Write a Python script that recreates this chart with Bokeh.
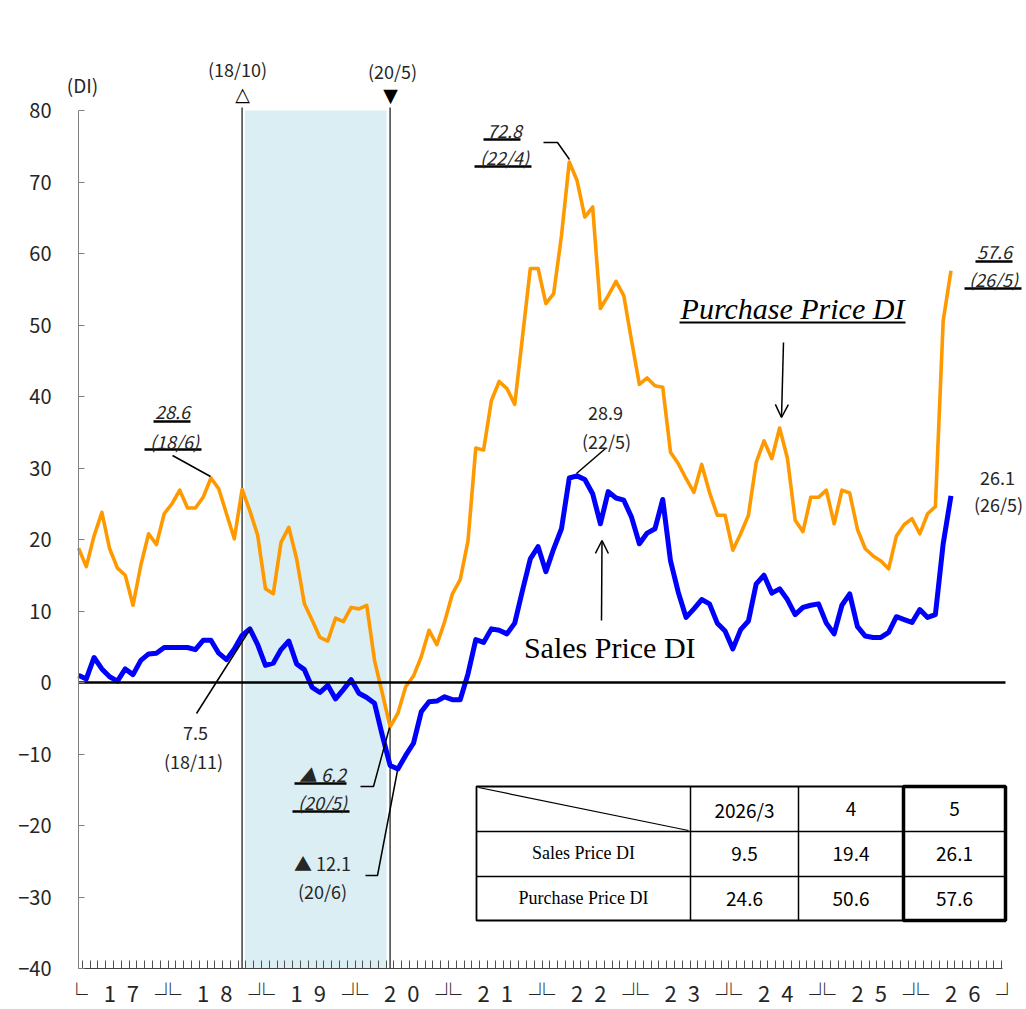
from bokeh.plotting import figure
from bokeh.models import Range1d, FixedTicker, Label, Arrow, OpenHead
from bokeh.embed import file_html
from bokeh.resources import INLINE

# ---------------- data (monthly, 2017/1 .. 2026/5) ----------------
months = list(range(113))

purchase = [18.8, 16.2, 20.5, 23.8, 18.7, 16.0, 15.0, 10.8, 16.4, 20.8, 19.3, 23.6,
            25.0, 26.9, 24.4, 24.4, 25.9, 28.6, 27.1, 23.6, 20.1, 27.0, 24.0, 20.6,
            13.1, 12.4, 19.6, 21.7, 17.3, 11.0, 8.7, 6.3, 5.8, 9.0, 8.5, 10.5,
            10.3, 10.8, 3.1, -1.5, -6.2, -4.3, -0.6, 0.9, 3.6, 7.3, 5.3, 8.5,
            12.4, 14.4, 19.8, 32.8, 32.5, 39.4, 42.1, 41.1, 38.9, 48.4, 57.9, 57.9,
            53.0, 54.4, 62.5, 72.8, 70.2, 65.1, 66.5, 52.3, 54.1, 56.1, 54.1, 47.8,
            41.7, 42.6, 41.5, 41.3, 32.2, 30.6, 28.5, 26.6, 30.5, 26.6, 23.4, 23.4,
            18.5, 20.8, 23.4, 30.8, 33.8, 31.3, 35.6, 31.4, 22.7, 21.1, 25.9, 25.9,
            26.9, 22.2, 26.9, 26.5, 21.4, 18.7, 17.7, 17.0, 15.9, 20.5, 22.1, 22.9,
            20.8, 23.6, 24.6, 50.6, 57.6]

sales = [1.0, 0.5, 3.5, 1.9, 0.8, 0.2, 1.9, 1.1, 3.1, 4.0, 4.1, 4.9,
         4.9, 4.9, 4.9, 4.6, 5.9, 5.9, 4.1, 3.2, 4.7, 6.6, 7.5, 5.3,
         2.4, 2.7, 4.6, 5.8, 2.6, 1.8, -0.7, -1.4, -0.4, -2.3, -1.0, 0.4,
         -1.5, -2.1, -2.9, -7.4, -11.6, -12.1, -10.2, -8.5, -4.1, -2.7, -2.6, -2.0,
         -2.4, -2.4, 1.2, 6.0, 5.6, 7.5, 7.3, 6.8, 8.3, 12.9, 17.3, 19.0,
         15.5, 18.7, 21.5, 28.6, 28.9, 28.4, 26.4, 22.2, 26.7, 25.8, 25.5, 23.1,
         19.4, 20.9, 21.5, 25.6, 17.0, 12.6, 9.1, 10.3, 11.6, 11.0, 8.3, 7.2,
         4.7, 7.4, 8.6, 13.8, 15.0, 12.5, 13.1, 11.6, 9.5, 10.5, 10.8, 11.0,
         8.3, 6.8, 10.8, 12.4, 7.8, 6.5, 6.3, 6.3, 7.0, 9.2, 8.8, 8.4,
         10.2, 9.1, 9.5, 19.4, 26.1]

year_labels = ["1\u20027", "1\u20028", "1\u20029", "2\u20020", "2\u20021",
               "2\u20022", "2\u20023", "2\u20024", "2\u20025", "2\u20026"]
y_ticks = [-40, -30, -20, -10, 0, 10, 20, 30, 40, 50, 60, 70, 80]
y_tick_labels = ["\u221240", "\u221230", "\u221220", "\u221210", "0", "10", "20",
                 "30", "40", "50", "60", "70", "80"]
recession = (21, 40)           # 2018/10 peak .. 2020/5 trough (month index)
table_cols = ["2026/3", "4", "5"]
table_rows = ["Sales Price DI", "Purchase Price DI"]

# ---------------- pixel helpers (picture pixels -> data) ----------------
X0, XS = 78.0, 927.0 / 119.0
Y0, YS = 682.0, 858.0 / 120.0
W, H = 1024, 1009


def dx(px):
    return (px - X0) / XS


def dy(py):
    return (Y0 - py) / YS


ORANGE = "#FF9900"
BLUE = "#0000FF"
TXT = "#262626"
SANS = "Noto Sans CJK JP"
SERIF = "Liberation Serif"

p = figure(width=W, height=H, x_range=Range1d(dx(0), dx(W)), y_range=Range1d(dy(H), dy(0)),
           min_border_left=0, min_border_right=0, min_border_top=0, min_border_bottom=0,
           output_backend="svg", toolbar_location=None)
p.outline_line_color = None
p.grid.visible = False
p.background_fill_color = "white"
p.border_fill_color = "white"

# x axis: monthly ticks, drawn at y = -40
xa = p.xaxis[0]
xa.fixed_location = -40
xa.ticker = FixedTicker(ticks=[i + 0.5 for i in range(119)])
xa.bounds = (0, 118.6)
xa.axis_line_color = "#404040"
xa.axis_line_width = 1.2
xa.major_tick_in = 8
xa.major_tick_out = 0
xa.major_tick_line_color = "#505050"
xa.minor_tick_line_color = None
xa.major_label_text_font_size = "1px"
xa.major_label_text_color = None

# y axis drawn at x = 0
ya = p.yaxis[0]
ya.fixed_location = 0
ya.bounds = (-40, 80)
ya.ticker = FixedTicker(ticks=y_ticks)
ya.major_label_overrides = dict(zip(y_ticks, y_tick_labels))
ya.axis_line_color = "#808080"
ya.major_tick_line_color = "#808080"
ya.major_tick_in = 6
ya.major_tick_out = 0
ya.minor_tick_line_color = None
ya.major_label_text_font = SANS
ya.major_label_text_font_size = "20px"
ya.major_label_text_color = TXT
ya.major_label_standoff = 27

# recession shading + boundary lines
p.quad(left=[recession[0] + 0.35], right=[recession[1] - 0.45], bottom=[-40], top=[80],
       fill_color="#DAEEF3", line_color=None)
p.segment(x0=list(recession), x1=list(recession), y0=[-40, -40], y1=[dy(107), dy(107)],
          line_color="#404040", line_width=1.5)

# series
p.line(months, purchase, line_color=ORANGE, line_width=3.6, line_join="round")
p.line(months, sales, line_color=BLUE, line_width=5, line_join="round")

# zero line
p.line([0, 119], [0, 0], line_color="black", line_width=2.5)


def lab(text, x, y, size="18px", font=SANS, style="normal", color=TXT, align="center"):
    p.add_layout(Label(x=dx(x), y=dy(y), text=text, text_font=font, text_font_size=size,
                       text_font_style=style, text_color=color, text_align=align,
                       text_baseline="middle"))


def uline(x1, x2, y, w=2.5):
    p.line([dx(x1), dx(x2)], [dy(y), dy(y)], line_color="black", line_width=w)


def leader(pts, w=1.5):
    p.line([dx(a) for a, b in pts], [dy(b) for a, b in pts], line_color="black", line_width=w)


# year labels under the axis
for k, yl in enumerate(year_labels):
    p.add_layout(Label(x=12 * k + 5.5, y=dy(991), text="\u2514\u2002 " + yl + " \u2002\u2518",
                       text_font=SANS, text_font_size="22px", text_color=TXT,
                       text_align="center", text_baseline="middle"))

# top labels
lab("(DI)", 82, 84, size="19px")
lab("(18/10)", 237, 68, size="18px")
lab("(20/5)", 392, 70, size="18px")
lab("\u25b3", 242, 93, size="19px", font="DejaVu Sans", color="black")
lab("\u25bc", 390, 94, size="19px", font="DejaVu Sans", color="black")

# annotations: purchase peak 18/6
lab(f"{purchase[17]:.1f}", 172, 411, style="italic")
lab("(18/6)", 174, 440, style="italic")
uline(153, 190, 421)
uline(144, 201, 449)
leader([(172, 455), (210, 476)])

# sales 18/11
lab(f"{sales[22]:.1f}", 195, 732)
lab("(18/11)", 193, 760)
leader([(196, 713), (250, 628)])

# purchase trough 20/5
lab("\u25b2 " + f"{abs(purchase[40]):.1f}", 322, 773, style="italic")
lab("(20/5)", 322, 801, style="italic")
uline(294, 346, 783)
uline(292, 349, 811)
leader([(360, 786), (373, 786), (389, 727)])

# sales trough 20/6
lab("\u25b2 " + f"{abs(sales[41]):.1f}", 322, 862)
lab("(20/6)", 322, 890)
leader([(365, 875), (377, 875), (397, 770)])

# purchase peak 22/4
lab(f"{purchase[63]:.1f}", 504, 130, style="italic")
lab("(22/4)", 504, 156, style="italic")
uline(483, 520, 139)
uline(474, 531, 166)
leader([(543, 142), (557, 142), (569, 159)])

# sales peak 22/5
lab(f"{sales[64]:.1f}", 605, 412)
lab("(22/5)", 606, 440)
leader([(605, 448), (576, 473)])

# latest values 26/5
lab(f"{purchase[112]:.1f}", 994, 251, style="italic")
lab("(26/5)", 993, 278, style="italic")
uline(975, 1012, 261)
uline(964, 1021, 288)
lab(f"{sales[112]:.1f}", 997, 477)
lab("(26/5)", 998, 503)

# series names + arrows
lab("Purchase Price DI", 792, 308, size="30px", font=SERIF, style="italic", color="black")
uline(679, 905, 322, w=2)
p.add_layout(Arrow(end=OpenHead(size=13, line_width=1.5, line_color="black"),
                   x_start=dx(783), y_start=dy(342), x_end=dx(781), y_end=dy(417),
                   line_width=1.5, line_color="black"))
lab("Sales  Price DI", 613, 647, size="30px", font=SERIF, color="black")
p.add_layout(Arrow(end=OpenHead(size=13, line_width=1.5, line_color="black"),
                   x_start=dx(601), y_start=dy(620), x_end=dx(601.5), y_end=dy(540),
                   line_width=1.5, line_color="black"))

# ---------------- table ----------------
TX = [476, 690, 798, 903, 1005]
TY = [786, 831, 876, 920]
p.quad(left=[dx(TX[0])], right=[dx(TX[-1])], top=[dy(TY[0])], bottom=[dy(TY[-1])],
       fill_color="white", line_color="black", line_width=1.8)
for xv in TX[1:-1]:
    p.line([dx(xv), dx(xv)], [dy(TY[0]), dy(TY[-1])], line_color="black", line_width=1.5)
for yv in TY[1:-1]:
    p.line([dx(TX[0]), dx(TX[-1])], [dy(yv), dy(yv)], line_color="black", line_width=1.5)
p.line([dx(478), dx(688)], [dy(787), dy(830)], line_color="black", line_width=1.2)
p.quad(left=[dx(TX[3])], right=[dx(TX[4])], top=[dy(TY[0])], bottom=[dy(TY[-1])],
       fill_color=None, line_color="black", line_width=3.5)

col_cx = [(TX[i] + TX[i + 1]) / 2 for i in range(4)]
row_cy = [(TY[i] + TY[i + 1]) / 2 for i in range(3)]
for j, c in enumerate(table_cols):
    lab(c, col_cx[j + 1], row_cy[0], size="19px", color="black")
series_last = [sales[-3:], purchase[-3:]]
for i, rname in enumerate(table_rows):
    lab(rname, col_cx[0], row_cy[i + 1] - 1, size="18px", font=SERIF, color="black")
    for j, v in enumerate(series_last[i]):
        lab(f"{v:.1f}", col_cx[j + 1], row_cy[i + 1], size="19px", color="black")

open("out.html", "w").write(file_html(p, INLINE))
